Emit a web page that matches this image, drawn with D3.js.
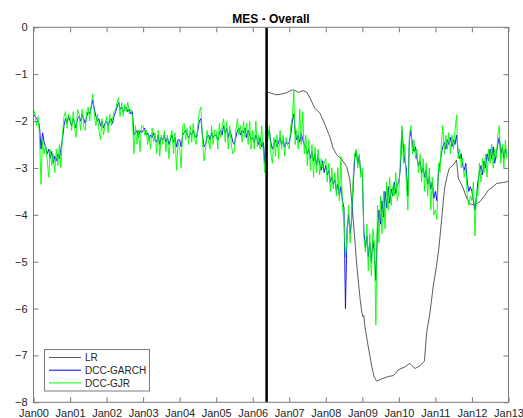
<!DOCTYPE html>
<html><head><meta charset="utf-8">
<script src="https://cdn.jsdelivr.net/npm/d3@7"></script>
<style>
html,body{margin:0;padding:0;background:#fff;}
svg{display:block;font-family:"Liberation Sans",Arial,Helvetica,sans-serif;}
</style></head>
<body><svg id="c" width="523" height="418"></svg>
<script>
// ---- data ----
const title = "MES - Overall";
const seriesNames = ["LR", "DCC-GARCH", "DCC-GJR"];
const yTickValues = [0, -1, -2, -3, -4, -5, -6, -7, -8];
const xTickYears = [2000,2001,2002,2003,2004,2005,2006,2007,2008,2009,2010,2011,2012,2013];
const eventYear = 2006.38;      // vertical marker (fractional year)
const seriesStartYear = 2000;   // GARCH / GJR: two observations per month (1st and 16th)

const garch = [
 -1.85,-1.9,-1.95,-2.0,-2.1,-2.6,-2.25,-2.45,-2.55,-2.7,-2.6,-2.8,-2.65,-2.9,-2.75,-2.85,-2.7,-2.8,-2.6,-2.4,-2.1,-1.95,-2.05,-1.9,
 -2.0,-2.1,-1.95,-2.05,-2.15,-1.95,-1.9,-2.0,-1.85,-1.95,-2.05,-1.9,-1.8,-1.85,-1.7,-1.55,-1.75,-1.9,-2.0,-1.95,-2.1,-2.0,-2.15,-2.05,
 -2.0,-2.1,-2.0,-1.95,-2.05,-1.9,-1.8,-1.7,-1.6,-1.75,-1.7,-1.8,-1.75,-1.7,-1.8,-1.75,-1.85,-1.8,-2.3,-2.25,-2.2,-2.35,-2.2,-2.25,
 -2.2,-2.15,-2.3,-2.25,-2.4,-2.3,-2.35,-2.25,-2.4,-2.45,-2.3,-2.5,-2.35,-2.4,-2.3,-2.45,-2.35,-2.5,-2.4,-2.3,-2.45,-2.35,-2.55,-2.4,
 -2.4,-2.55,-2.3,-2.25,-2.2,-2.3,-2.35,-2.25,-2.3,-2.2,-2.3,-2.35,-2.2,-2.0,-1.95,-2.3,-2.55,-2.5,-2.35,-2.3,-2.4,-2.25,-2.35,-2.3,
 -2.3,-2.4,-2.25,-2.2,-2.3,-2.1,-2.25,-2.15,-2.35,-2.2,-2.3,-2.45,-2.5,-2.35,-2.2,-2.15,-2.3,-2.2,-2.25,-2.15,-2.35,-2.2,-2.3,-2.4,
 -2.35,-2.45,-2.3,-2.4,-2.5,-2.35,-2.55,-2.45,-2.9,-2.0,-2.3,-2.2,-2.45,-2.6,-2.5,-2.4,-2.55,-2.45,-2.35,-2.5,-2.4,-2.55,-2.45,-2.5,
 -2.45,-2.3,-2.0,-1.85,-2.2,-2.4,-2.3,-2.45,-2.25,-2.4,-2.5,-2.55,-2.7,-2.6,-2.8,-2.65,-2.85,-2.7,-2.95,-2.75,-2.9,-3.05,-2.85,-3.1,
 -2.95,-3.15,-3.05,-3.3,-3.2,-3.35,-3.25,-3.5,-3.35,-3.6,-3.4,-3.7,-3.85,-6.0,-4.3,-4.0,-4.4,-4.1,-3.4,-2.8,-2.65,-2.9,-2.75,-3.1,
 -3.15,-4.35,-4.7,-4.45,-4.9,-4.6,-5.0,-4.55,-4.8,-5.4,-4.3,-3.9,-4.2,-3.7,-4.05,-3.5,-3.85,-3.4,-3.75,-3.45,-3.6,-3.3,-3.55,-3.35,
 -3.3,-3.0,-2.2,-2.6,-2.85,-3.0,-3.6,-2.4,-2.2,-2.5,-2.65,-2.55,-2.8,-2.95,-2.85,-3.1,-3.0,-3.2,-3.05,-3.35,-3.2,-3.45,-3.3,-3.65,
 -3.5,-3.7,-3.1,-2.9,-2.7,-2.55,-2.45,-2.6,-2.4,-2.5,-2.35,-2.55,-2.4,-2.5,-2.3,-2.65,-2.8,-2.7,-2.95,-3.05,-2.9,-3.3,-3.5,-3.4,
 -3.5,-3.7,-3.9,-3.6,-3.3,-3.1,-2.95,-3.15,-2.85,-3.0,-2.7,-2.85,-2.6,-2.8,-2.55,-2.9,-2.7,-2.5,-2.35,-2.7,-2.55,-2.8,-2.6,-2.75
];

const gjr = [
 -1.75,-1.85,-2.1,-1.9,-2.3,-3.35,-2.4,-2.7,-2.5,-2.8,-3.2,-2.6,-2.95,-2.7,-3.1,-2.6,-2.95,-2.5,-3.0,-2.3,-1.9,-1.8,-2.15,-1.85,
 -1.9,-2.2,-1.8,-2.15,-2.35,-1.75,-1.85,-2.2,-1.75,-2.1,-2.2,-1.8,-1.7,-2.0,-1.65,-1.42,-1.9,-2.1,-1.85,-2.2,-2.4,-1.95,-2.3,-2.1,
 -1.9,-2.25,-1.85,-2.1,-1.95,-1.8,-1.75,-1.6,-1.5,-1.9,-1.6,-1.9,-1.65,-1.8,-1.6,-1.85,-1.75,-1.9,-2.7,-2.1,-2.5,-2.2,-2.65,-2.1,
 -2.1,-2.3,-2.2,-2.5,-2.3,-2.6,-2.15,-2.45,-2.25,-2.7,-2.2,-2.75,-2.3,-2.5,-2.2,-2.65,-2.3,-2.8,-2.35,-2.2,-2.7,-2.25,-3.05,-2.45,
 -2.6,-3.0,-2.1,-2.05,-2.4,-2.15,-2.5,-2.1,-2.45,-2.05,-2.4,-2.5,-2.1,-1.8,-1.7,-2.4,-2.85,-2.6,-2.2,-2.45,-2.6,-2.1,-2.5,-2.2,
 -2.2,-2.6,-2.05,-2.35,-2.1,-1.95,-2.45,-2.0,-2.6,-2.1,-2.5,-2.7,-2.65,-2.2,-1.95,-2.3,-2.1,-2.45,-2.0,-2.35,-2.05,-2.5,-2.0,-2.6,
 -2.2,-2.6,-2.0,-2.55,-2.3,-2.6,-2.1,-2.65,-3.1,-1.95,-2.4,-2.1,-2.7,-2.9,-2.35,-2.75,-2.3,-2.8,-2.2,-2.6,-2.3,-2.75,-2.35,-2.5,
 -2.6,-2.1,-1.9,-1.35,-2.5,-2.2,-2.6,-1.75,-2.5,-1.8,-2.7,-2.3,-2.95,-2.4,-3.05,-2.5,-3.2,-2.55,-3.1,-2.6,-3.15,-2.8,-3.0,-2.9,
 -2.8,-3.3,-2.9,-3.5,-3.0,-3.45,-3.1,-3.6,-3.0,-3.7,-2.75,-3.9,-4.1,-4.9,-4.5,-3.8,-4.6,-4.0,-3.2,-2.7,-2.6,-3.0,-2.7,-3.2,
 -3.0,-4.5,-4.8,-4.2,-5.2,-4.4,-5.3,-4.3,-4.6,-6.35,-3.8,-4.6,-3.6,-4.4,-3.5,-4.3,-3.3,-3.9,-3.2,-3.8,-3.4,-3.6,-3.1,-3.7,
 -3.5,-2.8,-2.1,-2.9,-2.5,-3.3,-3.9,-2.3,-2.1,-2.7,-2.4,-2.8,-2.6,-3.1,-2.7,-3.3,-2.8,-3.5,-2.9,-3.6,-3.0,-3.9,-3.2,-4.0,
 -3.9,-4.1,-2.9,-3.1,-2.5,-2.1,-2.7,-2.3,-2.6,-2.25,-2.7,-2.3,-2.6,-2.2,-1.87,-2.8,-2.6,-3.0,-2.8,-3.2,-3.0,-3.6,-3.8,-3.6,
 -3.7,-3.3,-4.45,-3.5,-3.6,-2.9,-3.3,-2.8,-3.1,-2.7,-3.2,-2.6,-2.9,-2.5,-3.0,-2.6,-2.8,-2.3,-2.1,-2.9,-2.5,-3.0,-2.4,-2.8
];

const lrYears = [2006.39,2006.53,2006.64,2006.75,2006.91,2007.07,2007.14,2007.25,2007.38,2007.48,2007.57,2007.70,2007.84,2007.98,
 2008.11,2008.20,2008.30,2008.43,2008.57,2008.66,2008.72,2008.78,2008.85,2008.94,2008.98,2009.01,2009.04,2009.07,2009.16,2009.26,
 2009.32,2009.39,2009.53,2009.71,2009.85,2009.98,2010.17,2010.30,2010.44,2010.58,2010.70,2010.76,2010.85,2010.94,2011.03,2011.10,
 2011.17,2011.23,2011.26,2011.32,2011.38,2011.49,2011.58,2011.63,2011.76,2011.86,2011.95,2012.08,2012.22,2012.36,2012.45,2012.58,
 2012.68,2012.86,2012.99];
const lrValues = [-1.38,-1.41,-1.44,-1.43,-1.40,-1.34,-1.34,-1.39,-1.35,-1.39,-1.51,-1.73,-1.83,-2.08,
 -2.33,-2.58,-2.72,-2.81,-2.97,-3.26,-3.82,-4.39,-5.10,-5.81,-6.05,-6.17,-6.15,-6.38,-6.81,-7.24,
 -7.45,-7.55,-7.50,-7.45,-7.43,-7.31,-7.24,-7.17,-7.28,-7.22,-7.12,-6.52,-6.10,-5.53,-5.10,-4.68,
 -4.11,-3.60,-3.40,-3.18,-3.01,-2.94,-2.83,-3.22,-3.43,-3.65,-3.77,-3.79,-3.72,-3.58,-3.47,-3.40,
 -3.33,-3.31,-3.29];

// ---- helpers ----
function fracYearToDate(fy){
  const yr = Math.floor(fy);
  const a = new Date(yr,0,1), b = new Date(yr+1,0,1);
  return new Date(a.getTime() + (fy-yr)*(b-a));
}
function halfMonthDate(i){
  const yr = seriesStartYear + Math.floor(i/24);
  const m = Math.floor((i%24)/2);
  return new Date(yr, m, (i%2) ? 16 : 1);
}

// ---- layout ----
const m = {left:33.5, right:508.5, top:27.3, bottom:402.3};
const svg = d3.select("#c");
const axisColor = "#7a7a7a", textColor = "#262626";

const x = d3.scaleTime().domain([new Date(2000,0,1), new Date(2013,0,1)]).range([m.left, m.right]);
const y = d3.scaleLinear().domain([-8,0]).range([m.bottom, m.top]);
const color = d3.scaleOrdinal().domain(seriesNames).range(["#333333","#0000ff","#00ff00"]);

const xTicks = xTickYears.map(yy => new Date(yy,0,1));

svg.append("rect").attr("x",m.left).attr("y",m.top).attr("width",m.right-m.left).attr("height",m.bottom-m.top).attr("fill","#fff");

svg.append("defs").append("clipPath").attr("id","clip").append("rect")
  .attr("x",m.left).attr("y",m.top).attr("width",m.right-m.left).attr("height",m.bottom-m.top);
const plot = svg.append("g").attr("clip-path","url(#clip)");

const line = d3.line().x(d=>x(d[0])).y(d=>y(d[1]));

plot.append("path")
  .datum(lrYears.map((fy,i)=>[fracYearToDate(fy), lrValues[i]]))
  .attr("d", line).attr("fill","none").attr("stroke",color("LR")).attr("stroke-width",0.8);

plot.append("path")
  .datum(garch.map((v,i)=>[halfMonthDate(i), v]))
  .attr("d", line).attr("fill","none").attr("stroke",color("DCC-GARCH")).attr("stroke-width",0.9).attr("stroke-linejoin","round");

plot.append("path")
  .datum(gjr.map((v,i)=>[halfMonthDate(i), v]))
  .attr("d", line).attr("fill","none").attr("stroke",color("DCC-GJR")).attr("stroke-width",0.9).attr("stroke-linejoin","round");

const ed = fracYearToDate(eventYear);
svg.append("line").attr("x1",x(ed)).attr("x2",x(ed)).attr("y1",m.top).attr("y2",m.bottom)
  .attr("stroke","#000").attr("stroke-width",2.5);

function styleAxis(g){
  g.selectAll("path.domain").remove();
  g.selectAll(".tick line").attr("stroke",axisColor);
  g.selectAll(".tick text").attr("fill",textColor).style("font-size","11px")
    .style("font-family",'"Liberation Sans",Arial,Helvetica,sans-serif');
}
svg.append("g").attr("transform",`translate(0,${m.bottom})`)
  .call(d3.axisBottom(x).tickValues(xTicks).tickFormat(d3.timeFormat("%b%y")).tickSizeInner(-5).tickSizeOuter(0).tickPadding(6.5))
  .call(styleAxis);
svg.append("g").attr("transform",`translate(0,${m.top})`)
  .call(d3.axisTop(x).tickValues(xTicks).tickFormat("").tickSizeInner(-5).tickSizeOuter(0))
  .call(styleAxis);
svg.append("g").attr("transform",`translate(${m.left},0)`)
  .call(d3.axisLeft(y).tickValues(yTickValues).tickFormat(d3.format("d")).tickSizeInner(-5).tickSizeOuter(0).tickPadding(6))
  .call(styleAxis);
svg.append("g").attr("transform",`translate(${m.right},0)`)
  .call(d3.axisRight(y).tickValues(yTickValues).tickFormat("").tickSizeInner(-5).tickSizeOuter(0))
  .call(styleAxis);

svg.append("rect").attr("x",m.left).attr("y",m.top).attr("width",m.right-m.left).attr("height",m.bottom-m.top)
  .attr("fill","none").attr("stroke",axisColor).attr("stroke-width",1);

svg.append("text").attr("x",(m.left+m.right)/2).attr("y",23).attr("text-anchor","middle")
  .attr("fill","#000").style("font-size","12px").style("font-weight","bold").text(title);

const lg = svg.append("g").attr("transform","translate(44.5,349.5)");
lg.append("rect").attr("width",105).attr("height",41.5).attr("fill","#fff").attr("stroke",axisColor).attr("stroke-width",1);
seriesNames.forEach((s,i)=>{
  const yy = 8 + i*12.7;
  lg.append("line").attr("x1",4.5).attr("x2",36.5).attr("y1",yy).attr("y2",yy)
    .attr("stroke",color(s)).attr("stroke-width",s==="LR"?0.8:1);
  lg.append("text").attr("x",40.5).attr("y",yy+3.6).attr("fill",textColor)
    .style("font-size","10px").text(s);
});
</script>
</body></html>
